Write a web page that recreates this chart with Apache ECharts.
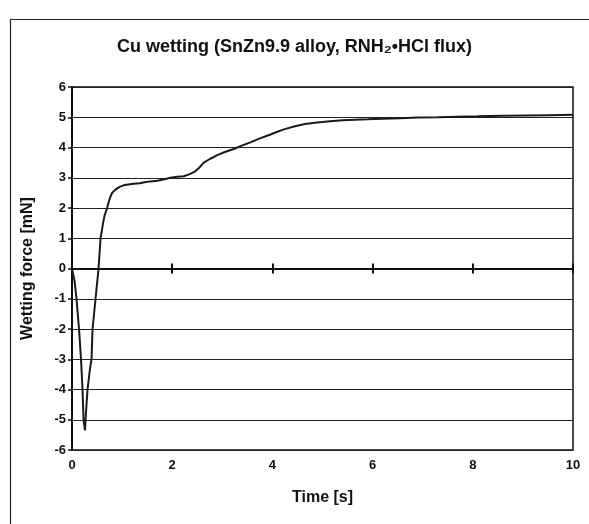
<!DOCTYPE html>
<html>
<head>
<meta charset="utf-8">
<script src="https://cdn.jsdelivr.net/npm/echarts@6/dist/echarts.min.js"></script>
<style>
html,body{margin:0;padding:0;background:#fff;}
#c{width:589px;height:524px;}
</style>
</head>
<body>
<div id="c"></div>
<script>
var titleText = 'Cu wetting (SnZn9.9 alloy, RNH\u2082\u2022HCl flux)';
var xName = 'Time [s]';
var yName = 'Wetting force [mN]';
var time = [0, 0.05, 0.09, 0.14, 0.18, 0.21, 0.23, 0.26, 0.27, 0.31, 0.36, 0.39, 0.41, 0.47, 0.53, 0.57, 0.62, 0.65, 0.7, 0.75, 0.8, 0.86, 0.95, 1.03, 1.12, 1.23, 1.35, 1.45, 1.56, 1.7, 1.85, 1.96, 2.1, 2.23, 2.35, 2.45, 2.55, 2.63, 2.75, 2.9, 3.05, 3.23, 3.4, 3.56, 3.75, 3.95, 4.1, 4.23, 4.45, 4.65, 4.89, 5.15, 5.4, 5.65, 5.9, 6.2, 6.56, 6.9, 7.3, 7.7, 8.1, 8.6, 9.1, 9.5, 10];
var force = [0, -0.4, -1.0, -2.0, -3.0, -4.0, -5.0, -5.35, -5.0, -4.0, -3.3, -3.0, -2.0, -1.0, 0, 1.0, 1.5, 1.75, 2.0, 2.3, 2.5, 2.6, 2.7, 2.75, 2.78, 2.8, 2.82, 2.85, 2.88, 2.9, 2.95, 3.0, 3.03, 3.05, 3.12, 3.2, 3.35, 3.5, 3.62, 3.75, 3.85, 3.95, 4.07, 4.17, 4.3, 4.42, 4.52, 4.6, 4.7, 4.78, 4.83, 4.87, 4.9, 4.92, 4.93, 4.95, 4.97, 4.99, 5.0, 5.02, 5.03, 5.05, 5.06, 5.07, 5.08];

var pts = time.map(function(t, i){ return [t, force[i]]; });
var font = 'Liberation Sans, Arial, sans-serif';
var chart = echarts.init(document.getElementById('c'));
chart.setOption({
  backgroundColor: '#ffffff',
  animation: false,
  title: {
    text: titleText, left: 'center', top: 33,
    textStyle: {fontFamily: font, fontWeight: 'bold', fontSize: 18, color: '#111'}
  },
  graphic: [{
    type: 'rect', left: 8, top: 17,
    shape: {width: 600, height: 520},
    style: {fill: 'none', stroke: '#222', lineWidth: 1.2},
    silent: true
  }],
  grid: {left: 72, right: 16, top: 87, bottom: 74, show: true, borderColor: '#111', borderWidth: 1.5, backgroundColor: 'transparent'},
  xAxis: [{
    type: 'value', min: 0, max: 10, interval: 2, position: 'bottom',
    name: xName, nameLocation: 'middle', nameGap: 40,
    nameTextStyle: {fontFamily: font, fontWeight: 'bold', fontSize: 16, color: '#111'},
    axisLine: {show: false, onZero: false},
    axisTick: {show: false},
    splitLine: {show: false},
    axisLabel: {fontFamily: font, fontWeight: 'bold', fontSize: 13, color: '#111', margin: 9}
  }, {
    type: 'value', min: 0, max: 10, interval: 2, position: 'bottom',
    axisLine: {show: true, onZero: true, onZeroAxisIndex: 0, lineStyle: {color: '#111', width: 2}},
    axisTick: {show: true, length: 5, lineStyle: {color: '#111', width: 2}},
    axisLabel: {show: false}, splitLine: {show: false}
  }, {
    type: 'value', min: 0, max: 10, interval: 2, position: 'top',
    axisLine: {show: true, onZero: true, onZeroAxisIndex: 1, lineStyle: {color: '#111', width: 2}},
    axisTick: {show: true, length: 5, lineStyle: {color: '#111', width: 2}},
    axisLabel: {show: false}, splitLine: {show: false}
  }],
  yAxis: [{
    type: 'value', min: -6, max: 6, interval: 1,
    name: yName, nameLocation: 'middle', nameGap: 36,
    nameTextStyle: {fontFamily: font, fontWeight: 'bold', fontSize: 16, color: '#111'},
    axisLine: {show: true, lineStyle: {color: '#111', width: 2}},
    axisTick: {show: true, length: 4, lineStyle: {color: '#111', width: 1.5}},
    axisLabel: {fontFamily: font, fontWeight: 'bold', fontSize: 13, color: '#111', margin: 6},
    splitLine: {show: true, lineStyle: {color: '#222', width: 1.2}}
  }, {
    type: 'value', min: -6, max: 6, interval: 1, position: 'left',
    axisLine: {show: false, onZero: false}, axisTick: {show: false},
    axisLabel: {show: false}, splitLine: {show: false}
  }],
  series: [{
    type: 'line', xAxisIndex: 0, yAxisIndex: 0, data: pts, showSymbol: false,
    lineStyle: {color: '#1a1a1a', width: 2}
  }]
});
</script>
</body>
</html>
